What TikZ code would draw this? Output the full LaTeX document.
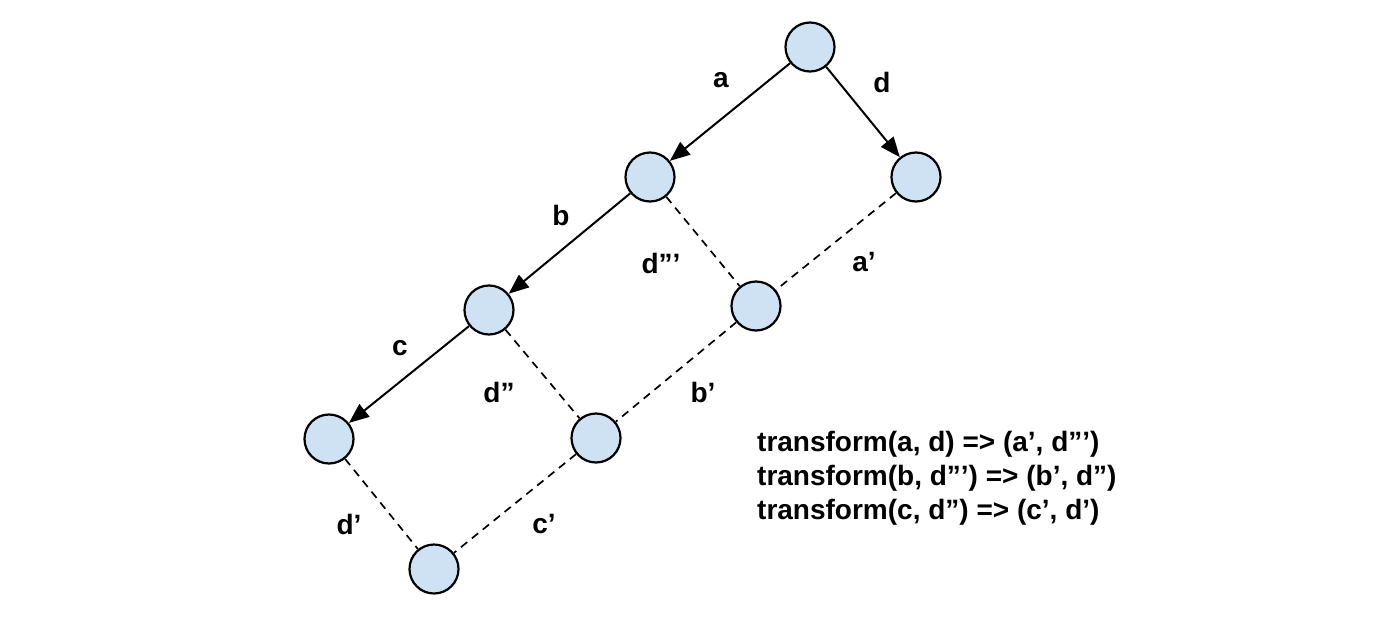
\documentclass[tikz,border=0pt]{standalone}
\usepackage{fontspec}
\setmainfont{Liberation Sans}
\usetikzlibrary{arrows.meta}
\definecolor{nodefill}{HTML}{CFE2F3}
\begin{document}
\begin{tikzpicture}[x=1pt,y=-1pt,
  vert/.style={circle,draw=black,fill=nodefill,line width=2.2pt,minimum size=49pt,inner sep=0pt},
  solidedge/.style={line width=2pt,-{Triangle[length=20pt,width=16pt]}},
  dashededge/.style={line width=1.7pt,dash pattern=on 8pt off 6pt},
  lbl/.style={font=\fontsize{28}{32}\selectfont\bfseries,inner sep=0pt}]
\fill[white] (0,0) rectangle (1390,624);
\useasboundingbox (0,0) rectangle (1390,624);
\node[vert] (T) at (810,47) {};
\node[vert] (A) at (650,177) {};
\node[vert] (D) at (916,177) {};
\node[vert] (B) at (489,310) {};
\node[vert] (M) at (756,306) {};
\node[vert] (C) at (329,439) {};
\node[vert] (N) at (596,438) {};
\node[vert] (Z) at (434,569) {};
\draw[solidedge] (T) -- (A);
\draw[solidedge] (T) -- (D);
\draw[solidedge] (A) -- (B);
\draw[solidedge] (B) -- (C);
\draw[dashededge] (A) -- (M);
\draw[dashededge] (D) -- (M);
\draw[dashededge] (B) -- (N);
\draw[dashededge] (M) -- (N);
\draw[dashededge] (C) -- (Z);
\draw[dashededge] (N) -- (Z);
\node[lbl] (la) at (721,80) {a};
\node[lbl] (ld) at (882,82) {d};
\node[lbl] (lb) at (561,215) {b};
\node[lbl] (ldddd) at (661,263) {d”’};
\node[lbl] (lap) at (864,262) {a’};
\node[lbl] (lc) at (400,348) {c};
\node[lbl] (lddd) at (499,392) {d”};
\node[lbl] (lbp) at (703,392) {b’};
\node[lbl] (ldp) at (349,524) {d’};
\node[lbl] (lcp) at (544,524) {c’};
\node[lbl,anchor=west,align=left,font=\fontsize{28}{34}\selectfont\bfseries] (txt) at (757,478)
  {transform(a, d) => (a’, d”’)\\transform(b, d”’) => (b’, d”)\\transform(c, d”) => (c’, d’)};
\end{tikzpicture}
\end{document}
